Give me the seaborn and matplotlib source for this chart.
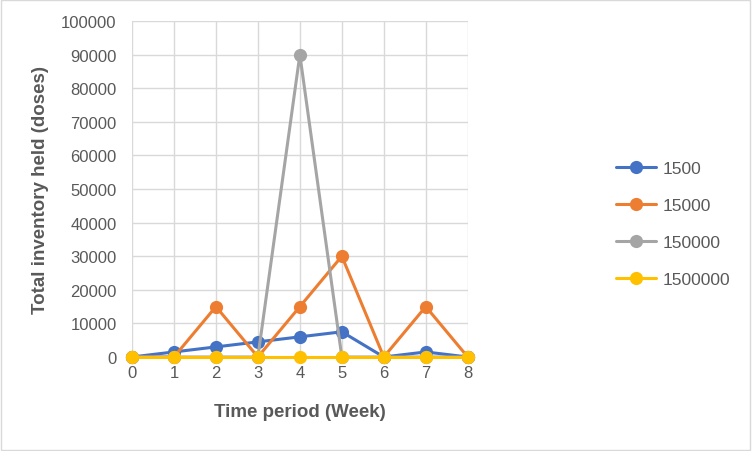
import pandas as pd
import matplotlib
matplotlib.use("Agg")
import matplotlib.pyplot as plt
import seaborn as sns

weeks = [0, 1, 2, 3, 4, 5, 6, 7, 8]
s1500 = [0, 1500, 3000, 4500, 6000, 7500, 0, 1500, 0]
s15000 = [0, 0, 15000, 0, 15000, 30000, 0, 15000, 0]
s150000 = [0, 0, 0, 0, 90000, 0, 0, 0, 0]
s1500000 = [0, 0, 0, 0, 0, 0, 0, 0, 0]
series_names = ["1500", "15000", "150000", "1500000"]
colors = ["#4472C4", "#ED7D31", "#A5A5A5", "#FFC000"]

rows = []
for name, vals in zip(series_names, [s1500, s15000, s150000, s1500000]):
    for w, v in zip(weeks, vals):
        rows.append({"week": w, "inventory": v, "series": name})
df = pd.DataFrame(rows)

sns.set_style("white")
plt.rcParams["font.family"] = ["Liberation Sans", "DejaVu Sans"]

fig = plt.figure(figsize=(7.52, 4.52), dpi=100)
ax = fig.add_axes([0.1755, 0.208, 0.4465, 0.743])

ax = sns.lineplot(x="week", y="inventory", hue="series", data=df, ax=ax,
                  palette=colors, marker="o", markersize=9.5, linewidth=2.2,
                  markeredgewidth=0, hue_order=series_names)

ax.set_xlim(0, 8)
ax.set_ylim(0, 100000)
ax.set_xticks(weeks)
ax.set_yticks(range(0, 100001, 10000))
ax.grid(True, color="#D9D9D9", linewidth=1)
ax.set_axisbelow(True)
for s in ax.spines.values():
    s.set_visible(False)
for line in ax.lines:
    line.set_clip_on(False)
ax.tick_params(axis="both", length=0, labelsize=12, colors="#595959")
ax.tick_params(axis="y", pad=11)
ax.tick_params(axis="x", pad=6)
ax.set_xlabel("Time period (Week)", fontsize=13.5, fontweight="bold", color="#595959", labelpad=16)
ax.set_ylabel("Total inventory held (doses)", fontsize=13.5, fontweight="bold", color="#595959", labelpad=9)

leg = ax.legend(loc="center left", bbox_to_anchor=(1.443, 0.396), frameon=False,
                fontsize=12.5, labelspacing=1.25, handlelength=2.3, handletextpad=0.35,
                borderpad=0, borderaxespad=0)
for t in leg.get_texts():
    t.set_color("#595959")

fig.patches.append(plt.Rectangle((0.001, 0.002), 0.997, 0.996, transform=fig.transFigure,
                                 fill=False, edgecolor="#D9D9D9", linewidth=1))
fig.savefig("out.png", dpi=100)
